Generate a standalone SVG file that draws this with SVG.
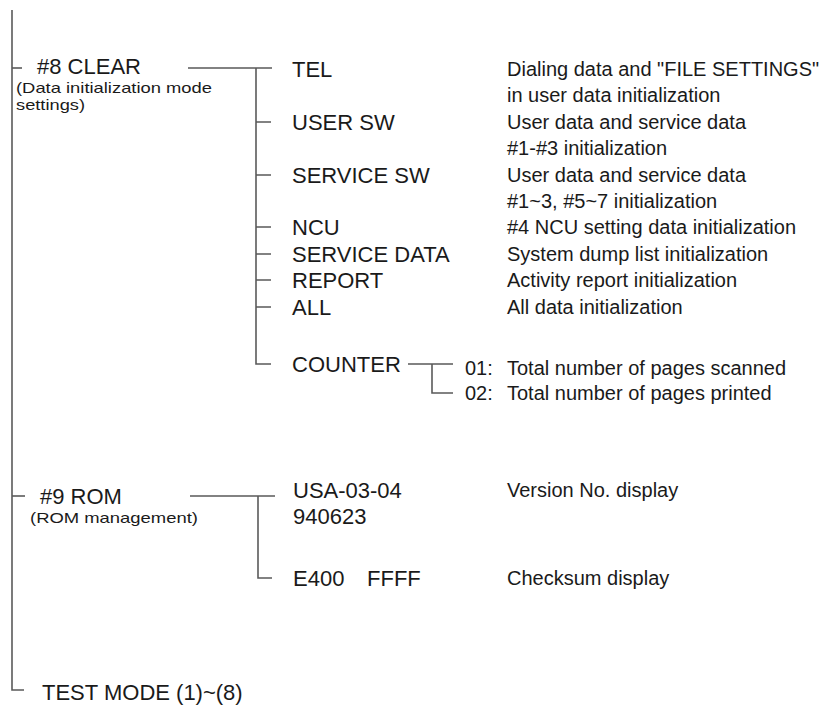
<svg xmlns="http://www.w3.org/2000/svg" width="822" height="717" viewBox="0 0 822 717">
<style>
text{font-family:"Liberation Sans",Arial,Helvetica,sans-serif;fill:#1a1a1a}
.big{font-size:22px}
.sm{font-size:15px}
.d{font-size:20px}
.ln{stroke:#5a5a5a;stroke-width:1.6;fill:none}
</style>
<rect width="822" height="717" fill="#ffffff"/>
<g id="connectors" class="ln">
<path d="M12,10 V690 H24"/>
<path d="M12,68 H22"/>
<path d="M12,496 H25"/>
<path d="M188,68 H272 M256,68 V364 H271 M256,122 H271 M256,175 H271 M256,227 H271 M256,254 H271 M256,280 H271 M256,307 H271"/>
<path d="M408,364 H453 M432,364 V393 H453"/>
<path d="M190,496 H275 M258,496 V578 H272"/>
</g>
<g id="clear">
<text class="big" x="37" y="74">#8 CLEAR</text>
<text class="sm" x="16" y="93" textLength="196" lengthAdjust="spacingAndGlyphs">(Data initialization mode</text>
<text class="sm" x="16" y="110" textLength="69" lengthAdjust="spacingAndGlyphs">settings)</text>
</g>
<g id="tel"><text class="big" x="292" y="77">TEL</text><text class="d" x="507" y="76">Dialing data and "FILE SETTINGS"</text><text class="d" x="507" y="102">in user data initialization</text></g>
<g id="usersw"><text class="big" x="292" y="130">USER SW</text><text class="d" x="507" y="129">User data and service data</text><text class="d" x="507" y="155">#1-#3 initialization</text></g>
<g id="servicesw"><text class="big" x="292" y="183">SERVICE SW</text><text class="d" x="507" y="182">User data and service data</text><text class="d" x="507" y="208">#1~3, #5~7 initialization</text></g>
<g id="ncu"><text class="big" x="292" y="235">NCU</text><text class="d" x="507" y="234">#4 NCU setting data initialization</text></g>
<g id="servicedata"><text class="big" x="292" y="262">SERVICE DATA</text><text class="d" x="507" y="261">System dump list initialization</text></g>
<g id="report"><text class="big" x="292" y="288">REPORT</text><text class="d" x="507" y="287">Activity report initialization</text></g>
<g id="all"><text class="big" x="292" y="315">ALL</text><text class="d" x="507" y="314">All data initialization</text></g>
<g id="counter"><text class="big" x="292" y="372">COUNTER</text></g>
<g id="c01"><text class="d" x="465" y="375">01:</text><text class="d" x="507" y="375">Total number of pages scanned</text></g>
<g id="c02"><text class="d" x="465" y="400">02:</text><text class="d" x="507" y="400">Total number of pages printed</text></g>
<g id="rom">
<text class="big" x="40" y="504">#9 ROM</text>
<text class="sm" x="30" y="523" textLength="168" lengthAdjust="spacingAndGlyphs">(ROM management)</text>
</g>
<g id="version"><text class="big" x="293" y="498">USA-03-04</text><text class="big" x="293" y="524">940623</text><text class="d" x="507" y="497">Version No. display</text></g>
<g id="checksum"><text class="big" x="293" y="586">E400<tspan x="367">FFFF</tspan></text><text class="d" x="507" y="585">Checksum display</text></g>
<g id="testmode"><text class="big" x="42" y="700">TEST MODE (1)~(8)</text></g>
</svg>
